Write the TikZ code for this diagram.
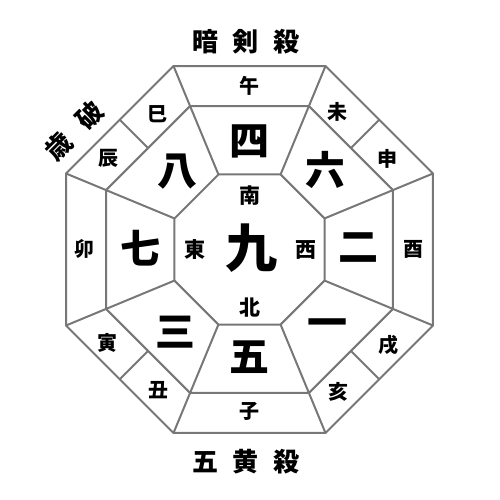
\documentclass[tikz,border=0pt]{standalone}
\usepackage{fontspec}
\setmainfont{Noto Sans CJK JP}
\usetikzlibrary{calc}
\definecolor{linegray}{RGB}{119,119,119}
\tikzset{
  edge/.style={draw=linegray,line width=2pt,line join=miter},
  branch/.style={font=\fontsize{20}{20}\selectfont\bfseries,inner sep=0pt},
  dirlabel/.style={font=\fontsize{21}{21}\selectfont\bfseries,inner sep=0pt},
  number/.style={font=\fontsize{40}{40}\selectfont\bfseries,inner sep=0pt},
  bignum/.style={font=\fontsize{52}{52}\selectfont\bfseries,inner sep=0pt},
  title/.style={font=\fontsize{26}{26}\selectfont\bfseries,inner sep=0pt},
}
\begin{document}
\begin{tikzpicture}[x=1pt,y=-1pt]
\useasboundingbox (0,0) rectangle (500,500);
\coordinate (C) at (249.5,249.5);
\foreach \k in {0,...,7}{
  \pgfmathsetmacro{\a}{22.5+45*\k}
  \path (C) ++(\a:198.6) coordinate (o\k);
  \path (C) ++(\a:155.3) coordinate (m\k);
  \path (C) ++(\a:81.2) coordinate (i\k);
}
\draw[edge] (o0)--(o1)--(o2)--(o3)--(o4)--(o5)--(o6)--(o7)--cycle;
\draw[edge] (m0)--(m1)--(m2)--(m3)--(m4)--(m5)--(m6)--(m7)--cycle;
\draw[edge] (i0)--(i1)--(i2)--(i3)--(i4)--(i5)--(i6)--(i7)--cycle;
\foreach \k in {0,...,7}{
  \draw[edge] (o\k)--(m\k)--(i\k);
}
\foreach \k/\n in {0/1,2/3,4/5,6/7}{
  \coordinate (od\k) at ($(o\k)!0.5!(o\n)$);
  \coordinate (md\k) at ($(m\k)!0.5!(m\n)$);
  \draw[edge] (od\k)--(md\k);
}
% titles
\node[title] (t1) at (246,42) {暗\hspace{15pt}剣\hspace{15pt}殺};
\node[title] (t2) at (246,462) {五\hspace{15pt}黄\hspace{15pt}殺};
\node[title,rotate=45] (t3) at (74,131) {歳\hspace{18pt}破};
% branches
\node[branch] (b1) at (249,86) {午};
\node[branch] (b2) at (337,112) {未};
\node[branch] (b3) at (387,159) {申};
\node[branch] (b4) at (413,249) {酉};
\node[branch] (b5) at (388,345) {戌};
\node[branch] (b6) at (338,392) {亥};
\node[branch] (b7) at (249,411) {子};
\node[branch] (b8) at (158,390) {丑};
\node[branch] (b9) at (107,343) {寅};
\node[branch] (b10) at (84,249) {卯};
\node[branch] (b11) at (108,158) {辰};
\node[branch] (b12) at (157,114) {巳};
% numbers
\node[number] (n4) at (249,141) {四};
\node[number] (n6) at (325,170) {六};
\node[number] (n2) at (358,248) {二};
\node[number] (n1) at (327,328) {一};
\node[number] (n5) at (249,357) {五};
\node[number] (n3) at (175,332) {三};
\node[number] (n7) at (140,248) {七};
\node[number] (n8) at (177,172) {八};
\node[bignum] (n9) at (251,248) {九};
% directions
\node[dirlabel] (dS) at (250,196) {南};
\node[dirlabel] (dN) at (250,308) {北};
\node[dirlabel] (dE) at (195,250) {東};
\node[dirlabel] (dW) at (306,250) {西};
\end{tikzpicture}
\end{document}
